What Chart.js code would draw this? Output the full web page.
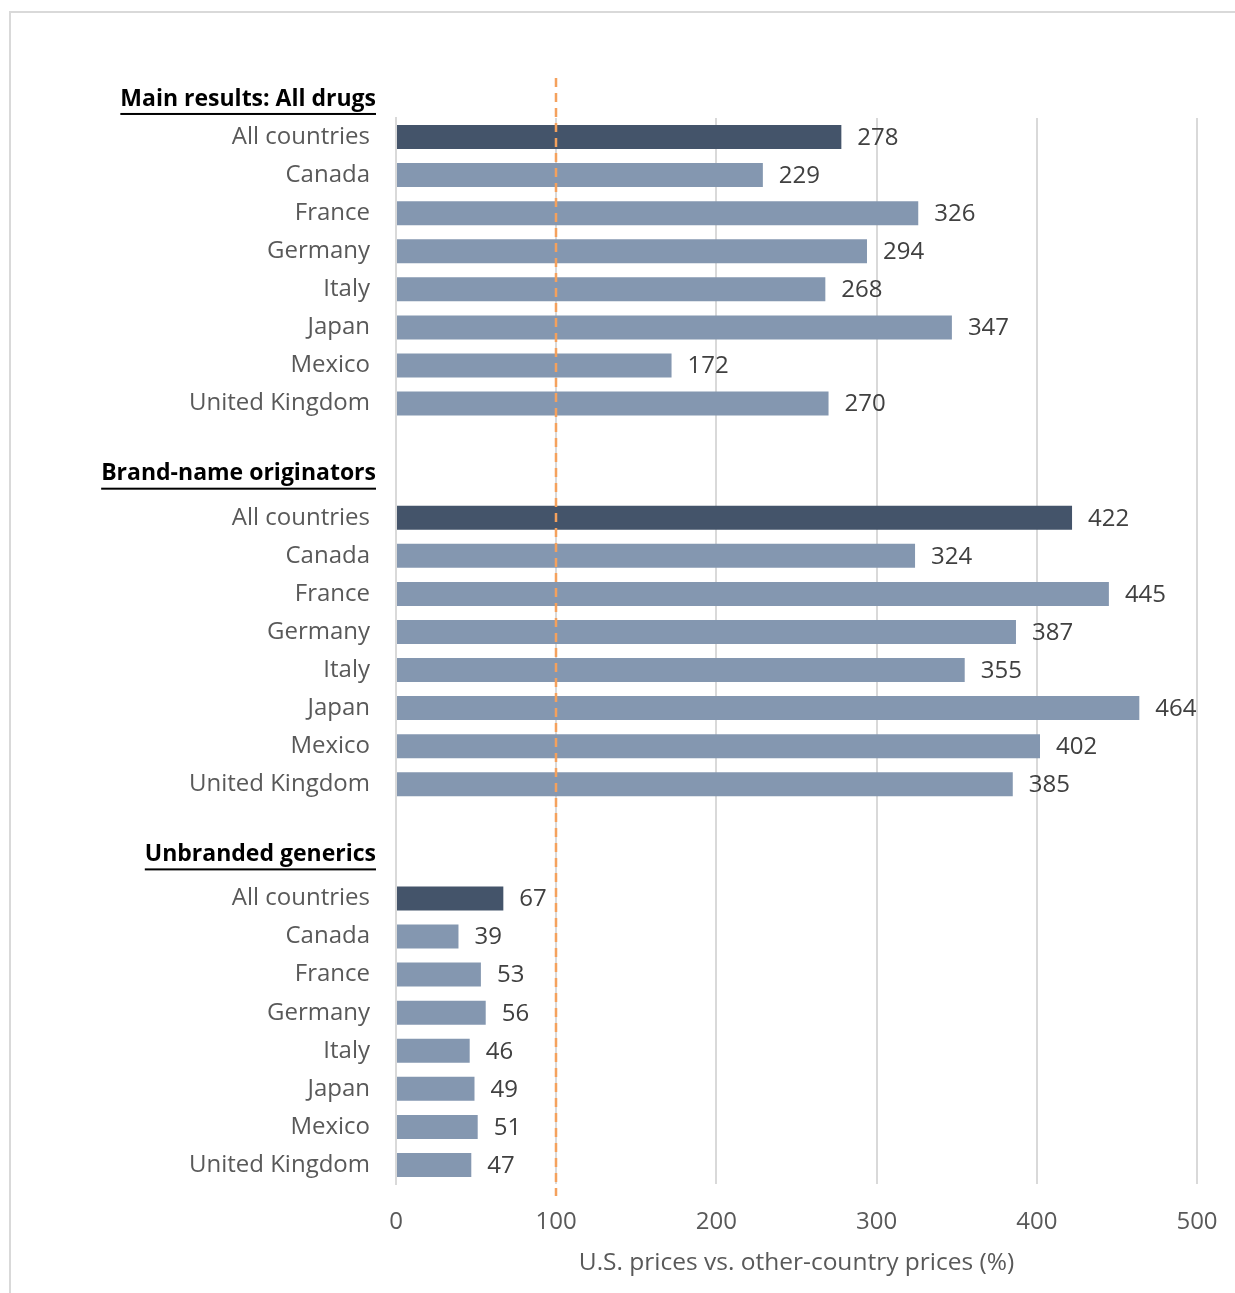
<!DOCTYPE html>
<html>
<head>
<meta charset="utf-8">
<script src="https://cdn.jsdelivr.net/npm/chart.js@4.4.1/dist/chart.umd.min.js"></script>
<style>
  html, body { margin: 0; padding: 0; background: #fff; overflow: hidden; }
  #frame { position: absolute; left: 9px; top: 11px; width: 1300px; height: 1400px; border: 2px solid #d9d9d9; }
  #wrap { position: absolute; left: 0; top: 0; width: 1235px; height: 1293px; }
</style>
</head>
<body>
<div id="frame"></div>
<div id="wrap"><canvas id="chart"></canvas></div>
<script>
const sectionTitles = ['Main results: All drugs', 'Brand-name originators', 'Unbranded generics'];
const countries = ['All countries', 'Canada', 'France', 'Germany', 'Italy', 'Japan', 'Mexico', 'United Kingdom'];
const allDrugs = [278, 229, 326, 294, 268, 347, 172, 270];
const brandName = [422, 324, 445, 387, 355, 464, 402, 385];
const generics = [67, 39, 53, 56, 46, 49, 51, 47];
const xTicks = [0, 100, 200, 300, 400, 500];
const refLine = 100;
const xTitle = 'U.S. prices vs. other-country prices (%)';

const darkColor = '#44546A';
const lightColor = '#8497B0';
const fontFamily = "'Open Sans', sans-serif";

// one row per country, plus a blank row and a header row between sections
// (the first header sits above the plot area)
const labels = [];
const values = [];
const colors = [];
const headerRows = [{ title: sectionTitles[0], row: -1 }];
[allDrugs, brandName, generics].forEach((vals, s) => {
    if (s > 0) {
        labels.push(''); values.push(null); colors.push(lightColor);
        headerRows.push({ title: sectionTitles[s], row: labels.length });
        labels.push(''); values.push(null); colors.push(lightColor);
    }
    countries.forEach((c, i) => {
        labels.push(c);
        values.push(vals[i]);
        colors.push(i === 0 ? darkColor : lightColor);
    });
});

const extras = {
    id: 'extras',
    afterDatasetsDraw(chart) {
        const ctx = chart.ctx;
        const x = chart.scales.x;
        const y = chart.scales.y;
        const area = chart.chartArea;

        // dashed reference line at 100
        ctx.save();
        ctx.strokeStyle = '#F4A15D';
        ctx.lineWidth = 2.5;
        ctx.setLineDash([9, 6]);
        const rx = Math.round(x.getPixelForValue(refLine));
        ctx.beginPath();
        ctx.moveTo(rx, area.top - 40);
        ctx.lineTo(rx, area.bottom + 12);
        ctx.stroke();
        ctx.restore();

        // value labels
        ctx.save();
        ctx.font = '24px ' + fontFamily;
        ctx.fillStyle = '#404040';
        ctx.textBaseline = 'middle';
        chart.getDatasetMeta(0).data.forEach((bar, i) => {
            if (values[i] == null) return;
            ctx.fillText(String(values[i]), bar.x + 16, bar.y + 1);
        });
        ctx.restore();

        // section headers, bold + underlined
        ctx.save();
        ctx.font = 'bold 23px ' + fontFamily;
        ctx.fillStyle = '#000';
        ctx.textAlign = 'right';
        ctx.textBaseline = 'middle';
        headerRows.forEach(h => {
            const yy = y.getPixelForValue(h.row) - (h.row < 0 ? 0 : 6);
            const right = y.right - 20;
            ctx.fillText(h.title, right, yy);
            const w = ctx.measureText(h.title).width;
            ctx.fillRect(right - w, yy + 14, w, 2);
        });
        ctx.restore();
    }
};

new Chart(document.getElementById('chart'), {
    type: 'bar',
    data: {
        labels: labels,
        datasets: [{
            data: values,
            backgroundColor: colors,
            categoryPercentage: 1,
            barPercentage: 0.63
        }]
    },
    options: {
        indexAxis: 'y',
        responsive: true,
        maintainAspectRatio: false,
        animation: false,
        layout: { padding: { top: 118, right: 38, left: 0, bottom: 0 } },
        plugins: {
            legend: { display: false },
            tooltip: { enabled: false }
        },
        scales: {
            x: {
                min: 0,
                max: 500,
                afterBuildTicks: (scale) => { scale.ticks = xTicks.map(v => ({ value: v })); },
                grid: { color: '#d9d9d9', lineWidth: 2, drawTicks: false },
                border: { display: false },
                ticks: { color: '#595959', font: { family: fontFamily, size: 24 }, padding: 24 },
                title: {
                    display: true,
                    text: xTitle,
                    color: '#595959',
                    font: { family: fontFamily, size: 24.5 },
                    padding: { top: 0, bottom: 15 }
                },
                afterFit: (scale) => {
                    scale.height = 109;
                    // tick padding is vertical here, don't let it eat the right margin
                    scale.paddingLeft = 0;
                    scale.paddingRight = 0;
                }
            },
            y: {
                grid: { display: false, drawTicks: false },
                border: { display: true, color: '#d9d9d9', width: 2 },
                ticks: { color: '#595959', font: { family: fontFamily, size: 24 }, padding: 26, autoSkip: false },
                afterFit: (scale) => { scale.width = 396; }
            }
        }
    },
    plugins: [extras]
});
</script>
</body>
</html>
